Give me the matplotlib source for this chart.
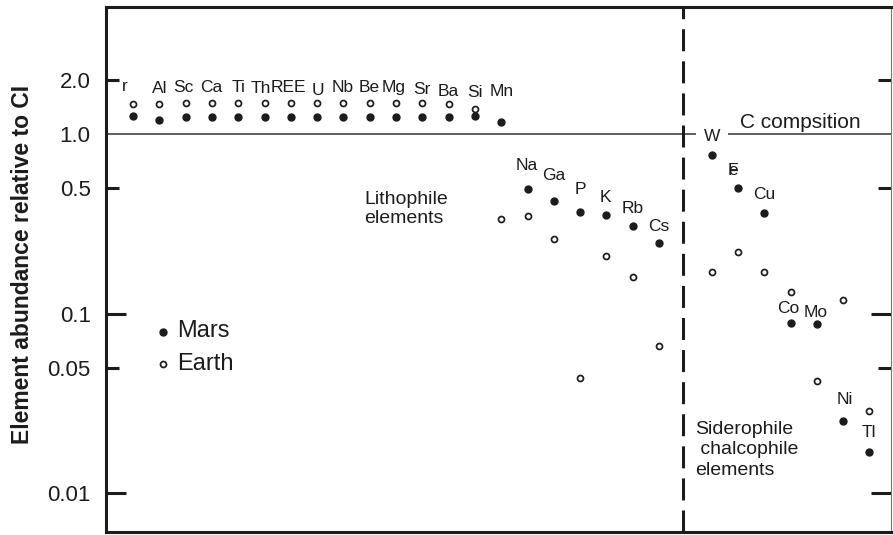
import matplotlib
matplotlib.use("Agg")
import matplotlib.pyplot as plt
from matplotlib.ticker import FixedLocator

plt.rcParams['font.family'] = ['Liberation Sans', 'DejaVu Sans']

# lithophile elements (left of the divider); "r" is the clipped Cr label
litho = ['r', 'Al', 'Sc', 'Ca', 'Ti', 'Th', 'REE', 'U', 'Nb', 'Be', 'Mg', 'Sr', 'Ba', 'Si',
         'Mn', 'Na', 'Ga', 'P', 'K', 'Rb', 'Cs']
mars_litho = [1.265, 1.197, 1.248, 1.248, 1.248, 1.239, 1.248, 1.248, 1.248, 1.248, 1.248,
              1.248, 1.248, 1.265, 1.171, 0.494, 0.424, 0.369, 0.354, 0.307, 0.246]
earth_litho = [1.464, 1.464, 1.483, 1.483, 1.483, 1.49, 1.498, 1.498, 1.49, 1.49, 1.49,
               1.498, 1.464, 1.378, 0.336, 0.348, 0.260, 0.0439, 0.210, 0.159, 0.0659]

# siderophile / chalcophile elements (right of the divider)
sidero = ['W', 'Fe', 'Cu', 'Co', 'Mo', 'Ni', 'Tl']
mars_sid = [0.764, 0.50, 0.363, 0.0885, 0.0873, 0.0252, 0.0169]
earth_sid = [0.170, 0.220, 0.170, 0.132, 0.042, 0.119, 0.0286]

# label offsets from the Mars dot, in pixels (dx, dy up)
litho_off = [(-8, 29), (0, 32), (-2, 29), (-1, 29), (0, 29), (-4, 29), (-2, 29), (1, 26),
             (-1, 29), (-1, 29), (-2, 29), (0, 27), (0, 25), (0, 23), (0, 30),
             (-1, 24), (0, 25), (0, 22), (-1, 17), (0, 18), (0, 17)]
sid_off = [(0, 19), (-5, 18), (0, 18.5), (-2, 15), (-1, 12), (2, 21.5), (-1, 20)]

yticks = [0.01, 0.1, 1.0]
yticks_minor = [0.05, 0.5, 2.0]
ytick_labels = ['0.01', '0.1', '1.0']
ytick_minor_labels = ['0.05', '0.5', '2.0']

ink = '#1c1c1c'
px = 0.72  # points per pixel at dpi 100
H = 535


def pix(x, y):
    # pixel position measured from the top-left corner
    return x, H - y


fig = plt.figure(figsize=(8.93, 5.35), dpi=100)
ax = fig.add_axes([106 / 893, 3 / 535, 785 / 893, 525 / 535])

xl = list(range(len(litho)))
xs = [len(litho) + 1 + i for i in range(len(sidero))]

dot = dict(ls='none', marker='o', ms=5.0, color=ink, mec=ink)
ring = dict(ls='none', marker='o', ms=4.3, mfc='white', mec=ink, mew=1.25)
ax.plot(xl, mars_litho, **dot, zorder=3)
ax.plot(xl, earth_litho, **ring, zorder=3)
ax.plot(xs, mars_sid, **dot, zorder=3)
ax.plot(xs, earth_sid, **ring, zorder=3)

for x, y, name, (dx, dy) in zip(xl, mars_litho, litho, litho_off):
    ax.annotate(name, (x, y), xytext=(dx * px, dy * px), textcoords='offset points',
                ha='center', va='center', fontsize=12.5, color=ink)

for x, y, name, (dx, dy) in zip(xs, mars_sid, sidero, sid_off):
    if name == 'W':
        ax.annotate(name, (x, y), xytext=(dx * px, dy * px), textcoords='offset points',
                    ha='center', va='center', fontsize=12.5, color=ink, zorder=4,
                    bbox=dict(boxstyle='square,pad=0.45', fc='white', ec='none'))
    elif name == 'Fe':
        # the F and e are set on top of each other
        for part in ('F', 'e'):
            ax.annotate(part, (x, y), xytext=(dx * px, dy * px), textcoords='offset points',
                        ha='center', va='center', fontsize=12.5, color=ink)
    else:
        ax.annotate(name, (x, y), xytext=(dx * px, dy * px), textcoords='offset points',
                    ha='center', va='center', fontsize=12.5, color=ink)

ax.set_yscale('log')
ax.set_ylim(0.00607, 5.10)
ax.set_xlim(-1.027, 28.82)

# CI reference line and lithophile / siderophile divider
ax.axhline(1.0, color='#333333', lw=1.1, zorder=2)
ax.axvline(20.9, color=ink, lw=2.2, dashes=(7.2, 3.3), zorder=2)

ax.text(*pix(740, 123), 'C compsition', transform=None, fontsize=15, color=ink,
        va='center')
ax.text(*pix(364, 209), 'Lithophile\nelements', transform=None, fontsize=14, color=ink,
        va='center', linespacing=1.1)
ax.text(*pix(695, 450), 'Siderophile\n chalcophile\nelements', transform=None,
        fontsize=14, color=ink, va='center', linespacing=1.25)

# legend drawn by hand
ax.plot(*pix(163, 332), transform=None, **dot)
ax.plot(*pix(163, 364), transform=None, **ring)
ax.text(*pix(177, 331), 'Mars', transform=None, fontsize=17, color=ink, va='center')
ax.text(*pix(177, 364), 'Earth', transform=None, fontsize=17, color=ink, va='center')

ax.yaxis.set_major_locator(FixedLocator(yticks))
ax.yaxis.set_minor_locator(FixedLocator(yticks_minor))
ax.set_yticklabels(ytick_labels)
ax.set_yticklabels(ytick_minor_labels, minor=True)
ax.set_xticks([])
ax.tick_params(axis='y', which='both', direction='in', left=True, right=True,
               width=2.2, color=ink, pad=11, labelsize=16, labelcolor=ink)
ax.tick_params(axis='y', which='major', length=14.5)
ax.tick_params(axis='y', which='minor', length=9.4)
for t in ax.yaxis.get_major_ticks():
    if t.get_loc() == 1.0:
        t.tick1line.set_visible(False)
        t.tick2line.set_visible(False)

for side in ('left', 'top', 'bottom'):
    ax.spines[side].set_linewidth(2.2)
    ax.spines[side].set_color(ink)
ax.spines['right'].set_linewidth(0.8)
ax.spines['right'].set_color('#777777')

fig.text(22.5 / 893, 1 - 264.5 / 535, 'Element abundance relative to CI', rotation=90,
         ha='center', va='center', fontsize=16.5, fontweight='bold', color=ink)

fig.savefig('out.png', dpi=100)
